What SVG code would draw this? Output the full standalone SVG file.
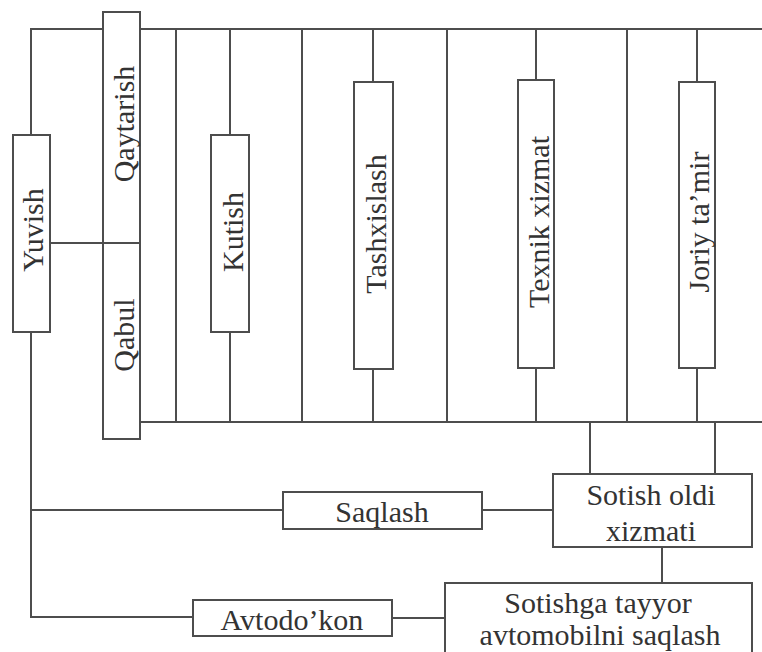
<svg xmlns="http://www.w3.org/2000/svg" width="762" height="652" viewBox="0 0 762 652">
  <style>
    .box { fill: #ffffff; stroke: #4d4d4d; stroke-width: 2; }
    .wire { fill: none; stroke: #4d4d4d; stroke-width: 2; }
    .lbl { font-size: 30px; fill: #333333; text-anchor: middle; }
  </style>
  <rect x="0" y="0" width="762" height="652" fill="#ffffff"/>

  <!-- connectors -->
  <g id="connectors" class="wire">
    <!-- top bus -->
    <path d="M31 135 V29 H103"/>
    <path d="M140 29 H762"/>
    <!-- bottom bus -->
    <path d="M140 422 H762"/>
    <!-- left trunk -->
    <path d="M31 332 V617 H193"/>
    <path d="M31 510 H283"/>
    <!-- Yuvish to Qabul / Qaytarish -->
    <path d="M50 243 H140"/>
    <!-- plain verticals between buses -->
    <path d="M176 29 V422"/>
    <path d="M302 29 V422"/>
    <path d="M447 29 V422"/>
    <path d="M627 29 V422"/>
    <!-- Kutish -->
    <path d="M230 29 V135"/>
    <path d="M230 332 V422"/>
    <!-- Tashxislash -->
    <path d="M373 29 V82"/>
    <path d="M373 369 V422"/>
    <!-- Texnik xizmat -->
    <path d="M536 29 V80"/>
    <path d="M536 368 V422"/>
    <!-- Joriy ta'mir -->
    <path d="M697 29 V82"/>
    <path d="M697 368 V422"/>
    <!-- bus to Sotish oldi xizmati -->
    <path d="M590 422 V474"/>
    <path d="M715 422 V474"/>
    <!-- Saqlash to Sotish oldi xizmati -->
    <path d="M482 510 H553"/>
    <!-- Sotish oldi xizmati to Sotishga tayyor -->
    <path d="M662 547 V583"/>
    <!-- Avtodo'kon to Sotishga tayyor -->
    <path d="M392 618 H445"/>
  </g>

  <g font-family="'Liberation Serif', 'DejaVu Serif', serif">
  <g id="yuvish">
    <rect class="box" x="13" y="135" width="37" height="197"/>
    <text class="lbl" transform="translate(43 230) rotate(-90)">Yuvish</text>
  </g>

  <g id="qabul-qaytarish">
    <rect class="box" x="103" y="12" width="37" height="427"/>
    <line class="wire" x1="103" y1="243" x2="140" y2="243"/>
    <text class="lbl" transform="translate(134 124) rotate(-90)">Qaytarish</text>
    <text class="lbl" transform="translate(134 335) rotate(-90)">Qabul</text>
  </g>

  <g id="kutish">
    <rect class="box" x="211" y="135" width="38" height="197"/>
    <text class="lbl" transform="translate(243 232) rotate(-90)">Kutish</text>
  </g>

  <g id="tashxislash">
    <rect class="box" x="354" y="82" width="39" height="287"/>
    <text class="lbl" transform="translate(386 224) rotate(-90)">Tashxislash</text>
  </g>

  <g id="texnik-xizmat">
    <rect class="box" x="518" y="80" width="36" height="288"/>
    <text class="lbl" transform="translate(549 222) rotate(-90)">Texnik xizmat</text>
  </g>

  <g id="joriy-tamir">
    <rect class="box" x="679" y="82" width="36" height="286"/>
    <text class="lbl" transform="translate(709 222) rotate(-90)">Joriy ta’mir</text>
  </g>

  <g id="saqlash">
    <rect class="box" x="283" y="492" width="199" height="37"/>
    <text class="lbl" x="382" y="522">Saqlash</text>
  </g>

  <g id="sotish-oldi-xizmati">
    <rect class="box" x="553" y="474" width="199" height="73"/>
    <text class="lbl" x="651" y="505">Sotish oldi</text>
    <text class="lbl" x="651" y="541">xizmati</text>
  </g>

  <g id="avtodokon">
    <rect class="box" x="193" y="600" width="199" height="36"/>
    <text class="lbl" x="292" y="630">Avtodo’kon</text>
  </g>

  <g id="sotishga-tayyor">
    <rect class="box" x="445" y="583" width="307" height="80"/>
    <text class="lbl" x="598" y="613">Sotishga tayyor</text>
    <text class="lbl" x="600" y="645">avtomobilni saqlash</text>
  </g>
  </g>
</svg>
